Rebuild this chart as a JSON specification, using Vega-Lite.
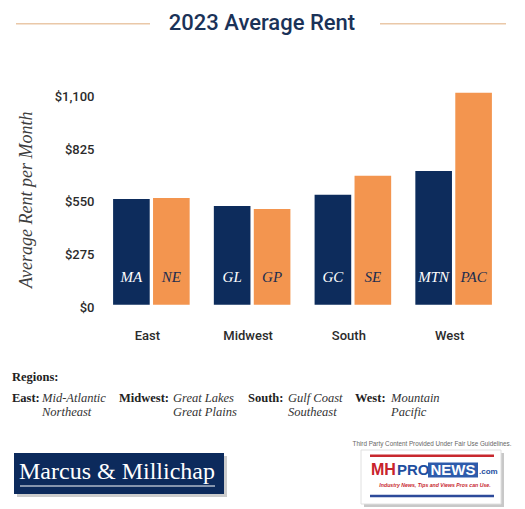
{
  "$schema": "https://vega.github.io/schema/vega-lite/v6.json",
  "width": 403,
  "height": 210.7,
  "autosize": {"type": "none"},
  "padding": {"left": 101, "top": 94, "right": 21, "bottom": 204.3},
  "background": "white",
  "config": {"view": {"stroke": null}},
  "data": {
    "values": [
      {"region": "East", "subregion": "Mid-Atlantic", "code": "MA", "series": "1", "rent": 552},
      {"region": "East", "subregion": "Northeast", "code": "NE", "series": "2", "rent": 557},
      {"region": "Midwest", "subregion": "Great Lakes", "code": "GL", "series": "1", "rent": 515},
      {"region": "Midwest", "subregion": "Great Plains", "code": "GP", "series": "2", "rent": 500},
      {"region": "South", "subregion": "Gulf Coast", "code": "GC", "series": "1", "rent": 574},
      {"region": "South", "subregion": "Southeast", "code": "SE", "series": "2", "rent": 673},
      {"region": "West", "subregion": "Mountain", "code": "MTN", "series": "1", "rent": 698},
      {"region": "West", "subregion": "Pacific", "code": "PAC", "series": "2", "rent": 1107}
    ]
  },
  "resolve": {"scale": {"x": "independent", "y": "independent"}},
  "layer": [
    {
      "encoding": {
        "x": {
          "field": "region", "type": "nominal",
          "sort": ["East", "Midwest", "South", "West"],
          "scale": {"paddingInner": 0.24, "paddingOuter": 0.12},
          "axis": {
            "title": null, "labelAngle": 0, "ticks": false, "domain": false,
            "labelPadding": 25, "labelFontSize": 13, "labelFont": "Roboto",
            "labelFontWeight": 500, "labelColor": "#2b2b2b", "labelOffset": -4
          }
        },
        "xOffset": {
          "field": "series", "type": "nominal",
          "scale": {"paddingInner": 0.083, "paddingOuter": 0}
        }
      },
      "layer": [
        {
          "mark": {"type": "bar"},
          "encoding": {
            "y": {
              "field": "rent", "type": "quantitative",
              "scale": {"domain": [0, 1100], "nice": false},
              "axis": {
                "title": "Average Rent per Month",
                "titleFont": "Liberation Serif", "titleFontStyle": "italic",
                "titleFontWeight": "normal", "titleFontSize": 18,
                "titleColor": "#3d3d3d", "titlePadding": 19,
                "values": [0, 275, 550, 825, 1100], "format": "$,d",
                "grid": false, "domain": false, "ticks": false,
                "labelPadding": 7, "labelFontSize": 13, "labelFont": "Roboto",
                "labelFontWeight": 500, "labelColor": "#2b2b2b", "labelOffset": 2.5
              }
            },
            "color": {
              "field": "series", "type": "nominal",
              "scale": {"domain": ["1", "2"], "range": ["#0d2c5c", "#f3954f"]},
              "legend": null
            }
          }
        },
        {
          "mark": {
            "type": "text", "font": "Liberation Serif", "fontStyle": "italic",
            "fontSize": 15, "baseline": "middle", "align": "center", "dy": -28
          },
          "encoding": {
            "y": {"datum": 0, "type": "quantitative"},
            "text": {"field": "code"},
            "color": {
              "condition": {"test": "datum.series == '1'", "value": "#ffffff"},
              "value": "#1b2d4f"
            }
          }
        }
      ]
    },
    {
      "data": {"values": [{}]},
      "encoding": {
        "x": {"type": "quantitative", "scale": {"domain": [0, 525], "range": [-101, 424], "nice": false, "zero": false}, "axis": null},
        "y": {"type": "quantitative", "scale": {"domain": [0, 509], "range": [-94, 415], "nice": false, "zero": false}, "axis": null}
      },
      "layer": [
        {"mark": {"type": "rule", "stroke": "#eac8a8", "strokeWidth": 1.5},
         "encoding": {"x": {"datum": 16}, "x2": {"datum": 150}, "y": {"datum": 23.7}}},
        {"mark": {"type": "rule", "stroke": "#eac8a8", "strokeWidth": 1.5},
         "encoding": {"x": {"datum": 380}, "x2": {"datum": 506}, "y": {"datum": 23.7}}},
        {"mark": {"type": "text", "text": "2023 Average Rent", "font": "Roboto", "fontSize": 22, "fontWeight": 500, "fill": "#1a3258", "align": "center", "baseline": "middle"},
         "encoding": {"x": {"datum": 262}, "y": {"datum": 23}}},
        {"mark": {"type": "text", "text": "Regions:", "font": "Liberation Serif", "fontSize": 12.5, "fontWeight": "bold", "fill": "#222222", "align": "left", "baseline": "middle"},
         "encoding": {"x": {"datum": 12}, "y": {"datum": 376.7}}},
        {"mark": {"type": "text", "text": "East:", "font": "Liberation Serif", "fontSize": 12.5, "fontWeight": "bold", "fill": "#222222", "align": "left", "baseline": "middle"},
         "encoding": {"x": {"datum": 12}, "y": {"datum": 398.3}}},
        {"mark": {"type": "text", "text": "Midwest:", "font": "Liberation Serif", "fontSize": 12.5, "fontWeight": "bold", "fill": "#222222", "align": "left", "baseline": "middle"},
         "encoding": {"x": {"datum": 119}, "y": {"datum": 398.3}}},
        {"mark": {"type": "text", "text": "South:", "font": "Liberation Serif", "fontSize": 12.5, "fontWeight": "bold", "fill": "#222222", "align": "left", "baseline": "middle"},
         "encoding": {"x": {"datum": 248}, "y": {"datum": 398.3}}},
        {"mark": {"type": "text", "text": "West:", "font": "Liberation Serif", "fontSize": 12.5, "fontWeight": "bold", "fill": "#222222", "align": "left", "baseline": "middle"},
         "encoding": {"x": {"datum": 355}, "y": {"datum": 398.3}}},
        {"mark": {"type": "text", "text": ["Mid-Atlantic", "Northeast"], "font": "Liberation Serif", "fontSize": 12.5, "fontStyle": "italic", "lineHeight": 14, "fill": "#333333", "align": "left", "baseline": "middle"},
         "encoding": {"x": {"datum": 42}, "y": {"datum": 398.3}}},
        {"mark": {"type": "text", "text": ["Great Lakes", "Great Plains"], "font": "Liberation Serif", "fontSize": 12.5, "fontStyle": "italic", "lineHeight": 14, "fill": "#333333", "align": "left", "baseline": "middle"},
         "encoding": {"x": {"datum": 173}, "y": {"datum": 398.3}}},
        {"mark": {"type": "text", "text": ["Gulf Coast", "Southeast"], "font": "Liberation Serif", "fontSize": 12.5, "fontStyle": "italic", "lineHeight": 14, "fill": "#333333", "align": "left", "baseline": "middle"},
         "encoding": {"x": {"datum": 288}, "y": {"datum": 398.3}}},
        {"mark": {"type": "text", "text": ["Mountain", "Pacific"], "font": "Liberation Serif", "fontSize": 12.5, "fontStyle": "italic", "lineHeight": 14, "fill": "#333333", "align": "left", "baseline": "middle"},
         "encoding": {"x": {"datum": 391}, "y": {"datum": 398.3}}},
        {"mark": {"type": "rect", "fill": "#9a9a9a", "opacity": 0.5},
         "encoding": {"x": {"datum": 17}, "x2": {"datum": 227}, "y": {"datum": 456}, "y2": {"datum": 497}}},
        {"mark": {"type": "rect", "fill": "#0c2a5c"},
         "encoding": {"x": {"datum": 14}, "x2": {"datum": 224}, "y": {"datum": 453}, "y2": {"datum": 494}}},
        {"mark": {"type": "text", "text": "Marcus & Millichap", "font": "Liberation Serif", "fontSize": 24, "fill": "#ffffff", "align": "center", "baseline": "alphabetic"},
         "encoding": {"x": {"datum": 117}, "y": {"datum": 479}}},
        {"mark": {"type": "rule", "stroke": "#ffffff", "strokeWidth": 1},
         "encoding": {"x": {"datum": 20}, "x2": {"datum": 215}, "y": {"datum": 486}}},
        {"mark": {"type": "text", "text": "Third Party Content Provided Under Fair Use Guidelines.", "font": "Liberation Sans", "fontSize": 6.3, "fill": "#666666", "align": "center", "baseline": "middle"},
         "encoding": {"x": {"datum": 432}, "y": {"datum": 444}}},
        {"mark": {"type": "rect", "fill": "#c8c8c8"},
         "encoding": {"x": {"datum": 364}, "x2": {"datum": 504}, "y": {"datum": 453}, "y2": {"datum": 507}}},
        {"mark": {"type": "rect", "fill": "#ffffff", "stroke": "#e0e0e0"},
         "encoding": {"x": {"datum": 361}, "x2": {"datum": 501}, "y": {"datum": 450}, "y2": {"datum": 504}}},
        {"mark": {"type": "rule", "stroke": "#c8282e", "strokeWidth": 2.5},
         "encoding": {"x": {"datum": 370}, "x2": {"datum": 494}, "y": {"datum": 455.7}}},
        {"mark": {"type": "rule", "stroke": "#2c4a9a", "strokeWidth": 2.5},
         "encoding": {"x": {"datum": 370}, "x2": {"datum": 494}, "y": {"datum": 496}}},
        {"mark": {"type": "text", "text": "MH", "font": "Liberation Sans", "fontSize": 16, "fontWeight": "bold", "fill": "#c8232b", "align": "left", "baseline": "middle"},
         "encoding": {"x": {"datum": 371}, "y": {"datum": 470}}},
        {"mark": {"type": "text", "text": "PRO", "font": "Liberation Sans", "fontSize": 15, "fontWeight": "bold", "fill": "#1f4f9f", "align": "left", "baseline": "middle"},
         "encoding": {"x": {"datum": 397}, "y": {"datum": 470}}},
        {"mark": {"type": "rect", "fill": "#2d5bab"},
         "encoding": {"x": {"datum": 428}, "x2": {"datum": 478}, "y": {"datum": 462.5}, "y2": {"datum": 477.5}}},
        {"mark": {"type": "text", "text": "NEWS", "font": "Liberation Sans", "fontSize": 15, "fontWeight": "bold", "fill": "#ffffff", "align": "center", "baseline": "middle"},
         "encoding": {"x": {"datum": 453}, "y": {"datum": 470}}},
        {"mark": {"type": "text", "text": ".com", "font": "Liberation Sans", "fontSize": 8, "fontWeight": "bold", "fill": "#1f4f9f", "align": "left", "baseline": "middle"},
         "encoding": {"x": {"datum": 479}, "y": {"datum": 472}}},
        {"mark": {"type": "text", "text": "Industry News, Tips and Views Pros can Use.", "font": "Liberation Sans", "fontSize": 5.2, "fontStyle": "italic", "fontWeight": "bold", "fill": "#c8282e", "align": "center", "baseline": "middle"},
         "encoding": {"x": {"datum": 435}, "y": {"datum": 485}}}
      ]
    }
  ]
}
